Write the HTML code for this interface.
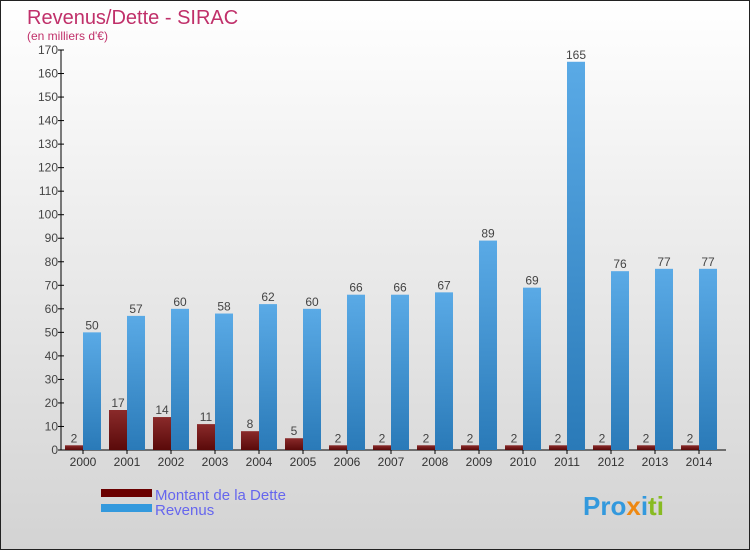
<!DOCTYPE html>
<html><head><meta charset="utf-8"><style>
body{margin:0}
#c{position:relative;width:748px;height:548px;border:1px solid #222;background:linear-gradient(#fff,#d3d3d3);font-family:"Liberation Sans",sans-serif;overflow:hidden}
</style></head><body>
<div id="c">
<svg id="s" width="748" height="548" xmlns="http://www.w3.org/2000/svg">
<defs>
<linearGradient id="gd" x1="0" y1="0" x2="0" y2="1"><stop offset="0" stop-color="#8a2a2a"/><stop offset="1" stop-color="#5a0a0a"/></linearGradient>
<linearGradient id="gr" x1="0" y1="0" x2="0" y2="1"><stop offset="0" stop-color="#5aaae6"/><stop offset="1" stop-color="#2a7ab8"/></linearGradient>
</defs>
<text x="26" y="23" font-size="20" fill="#c0306a">Revenus/Dette - SIRAC</text>
<text x="26" y="39" font-size="12" fill="#c0306a">(en milliers d'€)</text>
<g id="axes"></g><g id="bars"></g>
<rect x="100" y="488" width="51" height="8" fill="#6a0000"/>
<rect x="100" y="503" width="51" height="8" fill="#3399dd"/>
<text x="154" y="499" font-size="15" fill="#6666ee">Montant de la Dette</text>
<text x="154" y="514" font-size="15" fill="#6666ee">Revenus</text>
<text x="582" y="514" font-size="26" font-weight="bold"><tspan fill="#3399dd">Pro</tspan><tspan fill="#ee8811">x</tspan><tspan fill="#3399dd">i</tspan><tspan fill="#88bb22">ti</tspan></text>
</svg></div>
<script>
const years=["2000","2001","2002","2003","2004","2005","2006","2007","2008","2009","2010","2011","2012","2013","2014"];
const dette=[2,17,14,11,8,5,2,2,2,2,2,2,2,2,2];
const revenus=[50,57,60,58,62,60,66,66,67,89,69,165,76,77,77];
const yTicks=[0,10,20,30,40,50,60,70,80,90,100,110,120,130,140,150,160,170];
const NS="http://www.w3.org/2000/svg";
const y0=449,yTop=49,vMax=170,x0=60,band=44;
const ys=v=>y0-(y0-yTop)*v/vMax;
const xc=i=>x0+band/2+i*band;
const ax=document.getElementById('axes'),bg=document.getElementById('bars');
function mk(tag,at,p){const e=document.createElementNS(NS,tag);for(const k in at)e.setAttribute(k,at[k]);p.appendChild(e);return e;}
let l=mk('line',{x1:x0,y1:yTop,x2:x0,y2:y0,stroke:'#000'},ax);


l=mk('line',{x1:x0,y1:y0,x2:725,y2:y0,stroke:'#000'},ax);


yTicks.forEach(v=>{
 mk('line',{x1:x0-3,y1:ys(v),x2:x0+3,y2:ys(v),stroke:'#000'},ax);
 const t=mk('text',{x:x0-3,y:ys(v)+4,'font-size':12,'text-anchor':'end',fill:'#444'},ax);
 t.textContent=v;
 
 
});
years.forEach((y,i)=>{
 const c=xc(i);
 mk('line',{x1:c,y1:y0,x2:c,y2:y0+4,stroke:'#000'},ax);
 const t=mk('text',{x:c,y:y0+16,'font-size':12,'text-anchor':'middle',fill:'#333'},ax);
 t.textContent=y;
 
 
 const d=mk('rect',{x:c-18,y:ys(dette[i]),width:18,height:y0-ys(dette[i]),fill:'url(#gd)'},bg);
 
 
 const r=mk('rect',{x:c,y:ys(revenus[i]),width:18,height:y0-ys(revenus[i]),fill:'url(#gr)'},bg);
 
 
 const dl=mk('text',{x:c-9,y:ys(dette[i])-3,'font-size':12,'text-anchor':'middle',fill:'#444'},bg);
 dl.textContent=dette[i];
 
 
 const rl=mk('text',{x:c+9,y:ys(revenus[i])-3,'font-size':12,'text-anchor':'middle',fill:'#444'},bg);
 rl.textContent=revenus[i];
 
 
});
</script></body></html>
